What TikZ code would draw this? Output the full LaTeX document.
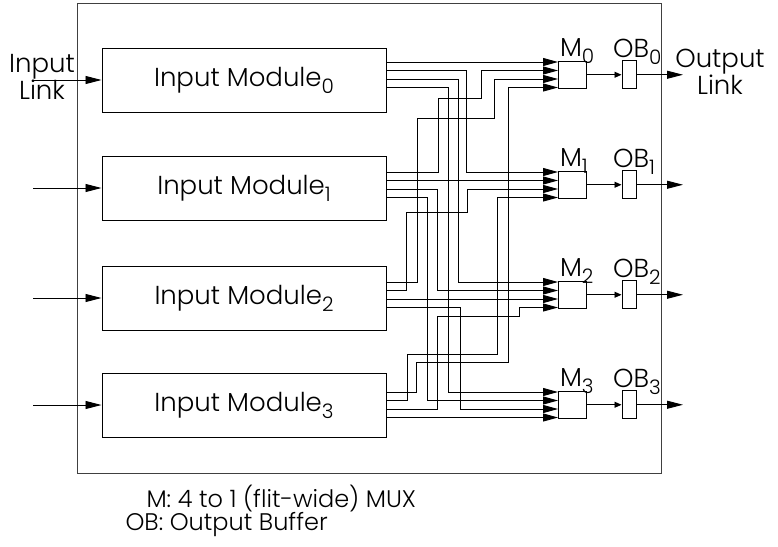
\documentclass[tikz,border=0pt]{standalone}
\usepackage{fontspec}
\setmainfont{Poppins Light}
\usetikzlibrary{arrows.meta,positioning}
\newcommand{\lowsub}[1]{\raisebox{-7pt}{\fontsize{20}{20}\selectfont #1}}
\tikzset{>=Stealth,every node/.style={font=\fontsize{26}{27}\selectfont},
 module/.style={draw,line width=1pt,minimum width=284pt,minimum height=64pt,inner sep=0pt},
 mux/.style={draw,line width=1pt,minimum width=28pt,minimum height=27pt,inner sep=0pt},
 obuf/.style={draw,line width=1pt,minimum width=14pt,minimum height=28pt,inner sep=0pt},
 wire/.style={line width=.9pt,-{Triangle[length=15pt,width=8pt]}},
 link/.style={line width=.9pt,-{Triangle[length=16pt,width=8pt]}},
 feed/.style={line width=.9pt,-{Triangle[length=7pt,width=6pt]}},
 legend/.style={font=\fontsize{24}{24}\selectfont,anchor=base west}}

\begin{document}
\begin{tikzpicture}[x=1pt,y=-1pt]
\useasboundingbox (0,0) rectangle (778,546);
\draw[line width=1pt,black!75] (77,3) rectangle (661,473);
% modules, muxes and output buffers
\foreach \k/\t/\d in {0/48/14,1/156/16,2/266/16,3/373/19}{
 \node[module] (im\k) at (244,{\t+32}) {Input Module\lowsub{\k}};
 \foreach \j in {0,...,3}{
  \coordinate (o\k\j) at (386,{\t+\d+8.5*\j});
  \coordinate (i\k\j) at (558,{\t+\d+8.5*\j});}
 \node[mux] (mx\k) at (572,{\t+\d+12.75}) {};
 \node[obuf] (ob\k) at (629,{\t+\d+12.75}) {};
 \node[anchor=base west] (lm\k) at ([xshift=-1pt,yshift=4pt]mx\k.north west) {M\lowsub{\k}};
 \node[anchor=base west] (lo\k) at ([xshift=-12pt,yshift=3pt]ob\k.north west) {OB\lowsub{\k}};
 \coordinate (in\k) at (33,{\t+32});
 \coordinate (out\k) at (683,{\t+\d+12.75});
 \draw[link] (in\k)--(im\k);
 \draw[feed] (mx\k)--(ob\k);
 \draw[link] (ob\k)--(out\k);
 \draw[wire] (o\k\k)--(i\k\k);}
% crossbar wires
\foreach \k/\j/\x in {0/1/466,0/2/458,0/3/448,1/2/437,1/3/427,2/3/460}
 \draw[wire] (o\k\j) -| (\x,0 |- i\j\k) -- (i\j\k);
\foreach \k/\j/\xa/\yj/\xb in {1/0/438/98/481,2/0/417/118/494,3/0/416/362/508,
 2/1/406/212/467,3/1/407/354/497,3/2/437/316/519}
 \draw[wire] (o\k\j) -| (\xa,\yj) -| (\xb,0 |- i\j\k) -- (i\j\k);
\node[align=center] (linkin) at (42,77) {Input\\Link};
\node[align=center] (linkout) at (720,72) {Output\\Link};
\node[legend] (lgm) at (143,507) {M: 4 to 1 (flit-wide) MUX};
\node[legend] (lgob) at (122,530) {OB: Output Buffer};
\end{tikzpicture}
\end{document}
